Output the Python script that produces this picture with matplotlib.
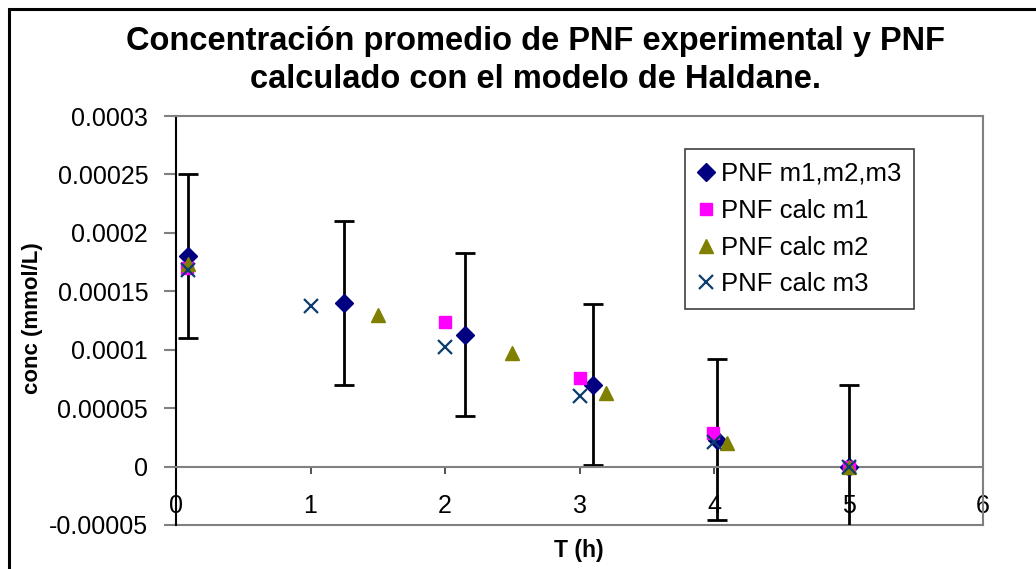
import numpy as np
import matplotlib
matplotlib.use('Agg')
import matplotlib.pyplot as plt
from matplotlib.patches import Rectangle
from matplotlib.ticker import FixedLocator, FuncFormatter

plt.rcParams['font.family'] = ['Liberation Sans', 'DejaVu Sans']

# Mean experimental PNF (m1, m2, m3) with its spread
t_exp = [0.09, 1.25, 2.15, 3.1, 4.02, 5.0]
pnf_exp = [0.00018, 0.00014, 0.000113, 0.00007, 0.000023, 0.0]
pnf_err = [0.00007, 0.00007, 0.00007, 0.000069, 0.000069, 0.00007]

# PNF calculated with the Haldane model
t_m1 = [0.08, 2.0, 3.0, 3.99, 5.0]
pnf_m1 = [0.00017, 0.000124, 0.000076, 0.0000285, 0.0]

t_m2 = [0.09, 1.5, 2.5, 3.2, 4.1, 5.0]
pnf_m2 = [0.000173, 0.00013, 0.000097, 0.000063, 0.00002, 0.0]

t_m3 = [0.09, 1.0, 2.0, 3.0, 4.0, 5.0]
pnf_m3 = [0.000168, 0.000137, 0.000102, 0.00006, 0.000021, 0.0]

y_ticks = [-0.00005, 0.0, 0.00005, 0.0001, 0.00015, 0.0002, 0.00025, 0.0003]
x_ticks = [0, 1, 2, 3, 4, 5, 6]

GRAY = '#808080'

fig = plt.figure(figsize=(10.36, 5.69), dpi=100)
ax = fig.add_axes([176 / 1036, 44 / 569, 807 / 1036, 409 / 569])

# chart border (only top and left edges fall inside the image)
fig.patches.append(Rectangle((9 / 1036, -0.5), 2.0, 1.5 - 9 / 569,
                             transform=fig.transFigure, fill=False,
                             edgecolor='black', linewidth=2.2))

ax.errorbar(t_exp, pnf_exp, yerr=pnf_err, fmt='none', ecolor='black',
            elinewidth=2, capsize=7, capthick=2, zorder=2)
ax.plot(t_exp, pnf_exp, 'D', color='#000080', markersize=9,
        label='PNF m1,m2,m3', zorder=3)
ax.plot(t_m1, pnf_m1, 's', color='#FF00FF', markersize=8.5,
        label='PNF calc m1', zorder=4)
ax.plot(t_m2, pnf_m2, '^', color='#808000', markersize=10,
        label='PNF calc m2', zorder=4)
ax.plot(t_m3, pnf_m3, 'x', color='#0B3D6E', markersize=10,
        markeredgewidth=1.6, label='PNF calc m3', zorder=5)

ax.set_xlim(0, 6)
ax.set_ylim(-0.00005, 0.0003)

# x axis crosses at zero, frame closed with gray lines
ax.spines['bottom'].set_position(('data', 0))
for side in ['bottom', 'top', 'right']:
    ax.spines[side].set_color(GRAY)
    ax.spines[side].set_linewidth(1.5)
ax.spines['left'].set_color('black')
ax.spines['left'].set_linewidth(1.5)
ax.plot([0, 1], [0, 0], transform=ax.transAxes, color=GRAY, lw=1.5,
        clip_on=False, zorder=1)

ax.yaxis.set_major_locator(FixedLocator(y_ticks))
ax.yaxis.set_major_formatter(FuncFormatter(
    lambda v, pos: f'{v:.5f}'.rstrip('0').rstrip('.')))
ax.xaxis.set_major_locator(FixedLocator(x_ticks))

ax.tick_params(axis='y', direction='out', length=9, width=1.5,
               color=GRAY, labelsize=18, pad=11)
ax.tick_params(axis='x', direction='out', length=5, width=1.2,
               color='#333333', labelsize=18, pad=15)

fig.text(33 / 1036, 1 - 318 / 569, 'conc (mmol/L)', rotation=90,
         ha='center', va='center', fontsize=16, fontweight='bold')
fig.text(579 / 1036, 1 - 550 / 569, 'T (h)', ha='center', va='center',
         fontsize=16.5, fontweight='bold')

fig.text(536 / 1036, 1 - 50 / 569,
         'Concentración promedio de PNF experimental y PNF',
         ha='center', va='baseline', fontsize=23.5, fontweight='bold')
fig.text(536 / 1036, 1 - 88 / 569,
         'calculado con el modelo de Haldane.',
         ha='center', va='baseline', fontsize=23.5, fontweight='bold')

leg = ax.legend(loc='upper left',
                bbox_to_anchor=(685 / 1036, 1 - 149 / 569),
                bbox_transform=fig.transFigure, fontsize=18.5,
                frameon=True, fancybox=False, framealpha=1,
                edgecolor='#404040', handlelength=0.6, handletextpad=0.3,
                labelspacing=0.5, borderpad=0.5, borderaxespad=0)
leg.get_frame().set_linewidth(1.2)

fig.savefig('out.png', dpi=100)
